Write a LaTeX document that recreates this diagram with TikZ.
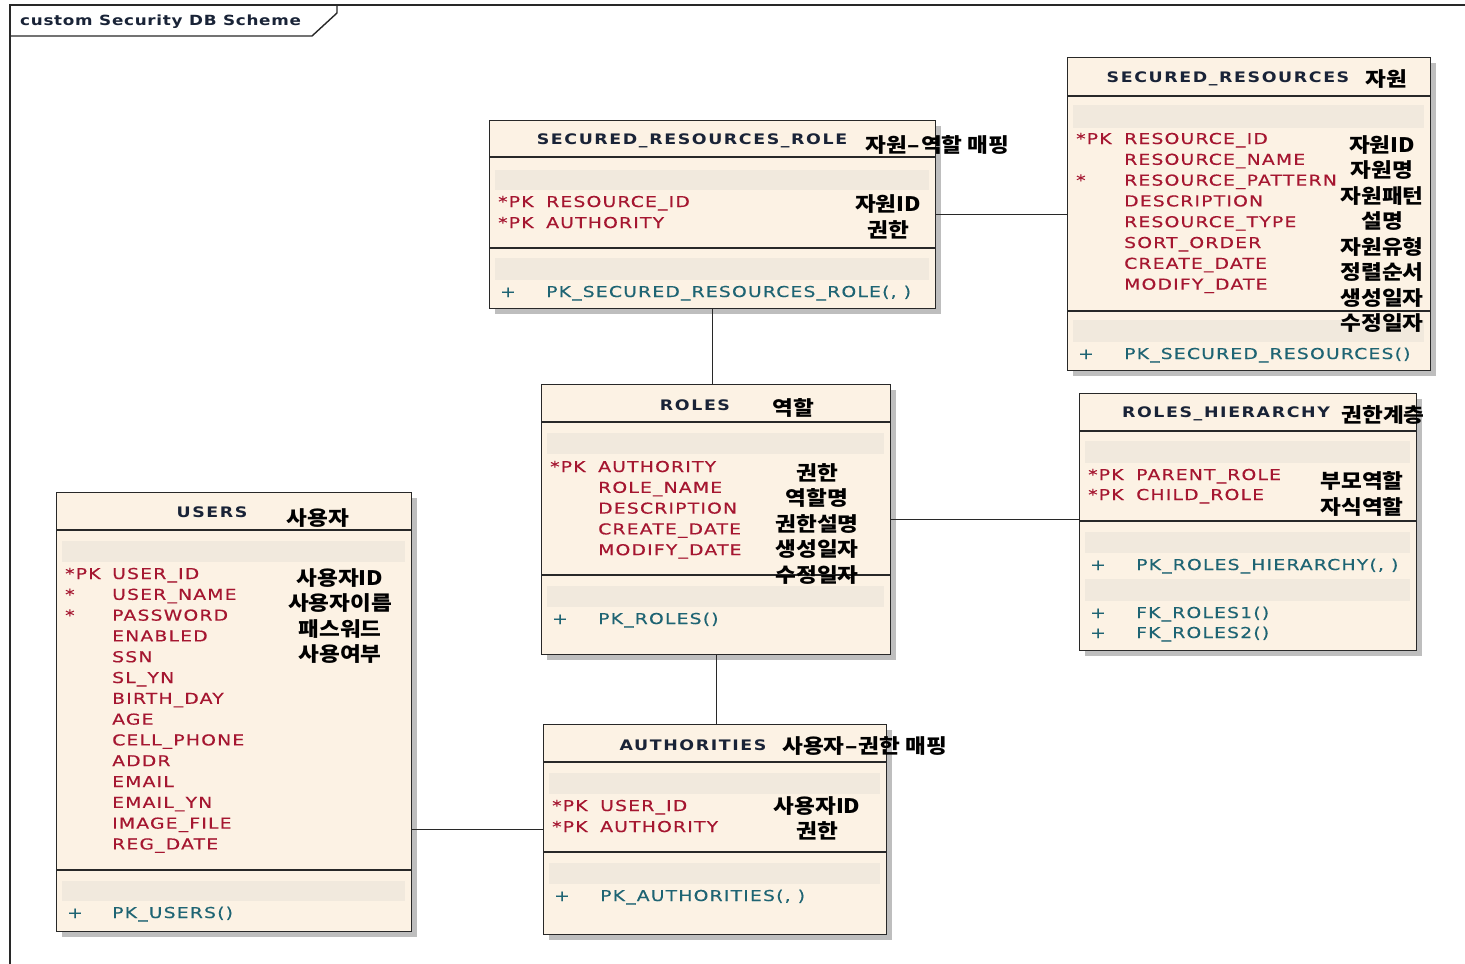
\documentclass[tikz,border=0pt]{standalone}
\usepackage{fontspec}
\usetikzlibrary{shadows}
\newfontfamily\fieldfont[FakeStretch=1.25,LetterSpace=8,FakeBold=0.4]{DejaVu Sans}
\newfontfamily\headfont[FakeStretch=1.2,LetterSpace=11]{DejaVu Sans}
\newfontfamily\titlefont[FakeStretch=1.2,LetterSpace=5]{DejaVu Sans}
\newfontfamily\krfont[FakeStretch=1.13]{Noto Sans CJK KR}

\definecolor{boxfill}{RGB}{252,242,228}
\definecolor{barfill}{RGB}{241,233,221}
\definecolor{boxline}{RGB}{40,40,40}
\definecolor{shadowgray}{RGB}{190,190,190}
\definecolor{fieldred}{RGB}{165,22,48}
\definecolor{methodteal}{RGB}{30,100,115}
\definecolor{headnavy}{RGB}{25,35,55}

\tikzset{
  entity/.style={draw=boxline, line width=1.2pt, fill=boxfill, anchor=north west,
    inner sep=0pt, drop shadow={shadow xshift=5pt, shadow yshift=-5pt, fill=shadowgray, opacity=1}},
  sepline/.style={draw=boxline, line width=1.1pt},
  bar/.style={fill=barfill},
  fld/.style={anchor=base west, inner sep=0pt, text=fieldred, font=\fieldfont\fontsize{15}{18}\selectfont},
  mth/.style={anchor=base west, inner sep=0pt, text=methodteal, font=\fieldfont\fontsize{15}{18}\selectfont},
  hdr/.style={anchor=base, inner sep=0pt, text=headnavy, font=\headfont\bfseries\fontsize{14.5}{17}\selectfont},
  kr/.style={inner sep=0pt, align=center, text=black, font=\krfont\bfseries\fontsize{20}{25.5}\selectfont},
  conn/.style={draw=boxline, line width=1.2pt},
  frame/.style={draw=boxline, line width=1.4pt},
}
\newcommand\dash{\kern1pt–\kern1pt}

\begin{document}
\begin{tikzpicture}[x=1pt,y=-1pt]
\useasboundingbox[fill=white] (0,0) rectangle (1465,964);

% diagram frame and title tab
\draw[frame] (10,964) -- (10,5) -- (1465,5);
\draw[frame] (10,36) -- (312,36) -- (337,13) -- (337,5);
\node[anchor=base west, inner sep=0pt, text=headnavy, font=\titlefont\bfseries\fontsize{14}{17}\selectfont]
  (title) at (20,25) {custom Security DB Scheme};

% ---------------- SECURED_RESOURCES_ROLE
\node[entity, minimum width=446pt, minimum height=188pt] (srr) at (489,120) {};
\draw[sepline] (489,157) -- (935,157);
\fill[bar] (495,170) rectangle (929,190);
\draw[sepline] (489,248) -- (935,248);
\fill[bar] (495,258) rectangle (929,280);
\node[hdr] (srr-h) at (692,144) {SECURED\_RESOURCES\_ROLE};
\node[kr, anchor=west] (srr-k) at (865,145) {자원\dash 역할 매핑};
\node[fld] (srr-p1) at (498,207) {*PK};
\node[fld] (srr-f1) at (546,207) {RESOURCE\_ID};
\node[fld] (srr-p2) at (498,228) {*PK};
\node[fld] (srr-f2) at (546,228) {AUTHORITY};
\node[kr] (srr-c) at (888,217) {자원ID\\권한};
\node[mth] (srr-m0) at (500,297) {+};
\node[mth] (srr-m1) at (546,297) {PK\_SECURED\_RESOURCES\_ROLE(, )};

% ---------------- SECURED_RESOURCES
\node[entity, minimum width=363pt, minimum height=313pt] (sr) at (1067,57) {};
\draw[sepline] (1067,96) -- (1430,96);
\fill[bar] (1073,105) rectangle (1424,128);
\draw[sepline] (1067,311) -- (1430,311);
\fill[bar] (1073,320) rectangle (1424,342);
\node[hdr] (sr-h) at (1228,82) {SECURED\_RESOURCES};
\node[kr] (sr-k) at (1386,79) {자원};
\node[fld] (sr-p1) at (1076,144) {*PK};
\node[fld] (sr-p3) at (1076,185.6) {*};
\foreach \t [count=\i from 0] in {RESOURCE\_ID,RESOURCE\_NAME,RESOURCE\_PATTERN,DESCRIPTION,RESOURCE\_TYPE,SORT\_ORDER,CREATE\_DATE,MODIFY\_DATE}
  \node[fld] (sr-f\i) at (1124,144+20.8*\i) {\t};
\node[kr] (sr-c) at (1382,234) {자원ID\\자원명\\자원패턴\\설명\\자원유형\\정렬순서\\생성일자\\수정일자};
\node[mth] (sr-m0) at (1078,359) {+};
\node[mth] (sr-m1) at (1124,359) {PK\_SECURED\_RESOURCES()};

% ---------------- ROLES
\node[entity, minimum width=349pt, minimum height=270pt] (roles) at (541,384) {};
\draw[sepline] (541,422) -- (890,422);
\fill[bar] (547,433) rectangle (884,454);
\draw[sepline] (541,575) -- (890,575);
\fill[bar] (547,586) rectangle (884,607);
\node[hdr] (roles-h) at (695,410) {ROLES};
\node[kr] (roles-k) at (793,408) {역할};
\node[fld] (roles-p1) at (550,472) {*PK};
\foreach \t [count=\i from 0] in {AUTHORITY,ROLE\_NAME,DESCRIPTION,CREATE\_DATE,MODIFY\_DATE}
  \node[fld] (roles-f\i) at (598,472+20.8*\i) {\t};
\node[kr] (roles-c) at (817,524) {권한\\역할명\\권한설명\\생성일자\\수정일자};
\node[mth] (roles-m0) at (552,624) {+};
\node[mth] (roles-m1) at (598,624) {PK\_ROLES()};

% ---------------- ROLES_HIERARCHY
\node[entity, minimum width=337pt, minimum height=257pt] (rh) at (1079,393) {};
\draw[sepline] (1079,431) -- (1416,431);
\fill[bar] (1085,441) rectangle (1410,463);
\draw[sepline] (1079,521) -- (1416,521);
\fill[bar] (1085,532) rectangle (1410,553);
\fill[bar] (1085,579) rectangle (1410,601);
\node[hdr] (rh-h) at (1226,417) {ROLES\_HIERARCHY};
\node[kr] (rh-k) at (1383,415) {권한계층};
\node[fld] (rh-p1) at (1088,480) {*PK};
\node[fld] (rh-f1) at (1136,480) {PARENT\_ROLE};
\node[fld] (rh-p2) at (1088,500) {*PK};
\node[fld] (rh-f2) at (1136,500) {CHILD\_ROLE};
\node[kr] (rh-c) at (1362,494) {부모역할\\자식역할};
\node[mth] (rh-m0) at (1090,570) {+};
\node[mth] (rh-m1) at (1136,570) {PK\_ROLES\_HIERARCHY(, )};
\node[mth] (rh-m2) at (1090,618) {+};
\node[mth] (rh-m3) at (1136,618) {FK\_ROLES1()};
\node[mth] (rh-m4) at (1090,638) {+};
\node[mth] (rh-m5) at (1136,638) {FK\_ROLES2()};

% ---------------- USERS
\node[entity, minimum width=355pt, minimum height=439pt] (users) at (56,492) {};
\draw[sepline] (56,530) -- (411,530);
\fill[bar] (62,541) rectangle (405,562);
\draw[sepline] (56,870) -- (411,870);
\fill[bar] (62,881) rectangle (405,901);
\node[hdr] (users-h) at (212,517) {USERS};
\node[kr] (users-k) at (318,518) {사용자};
\node[fld] (users-p1) at (65,579) {*PK};
\node[fld] (users-p2) at (65,599.8) {*};
\node[fld] (users-p3) at (65,620.6) {*};
\foreach \t [count=\i from 0] in {USER\_ID,USER\_NAME,PASSWORD,ENABLED,SSN,SL\_YN,BIRTH\_DAY,AGE,CELL\_PHONE,ADDR,EMAIL,EMAIL\_YN,IMAGE\_FILE,REG\_DATE}
  \node[fld] (users-f\i) at (112,579+20.8*\i) {\t};
\node[kr] (users-c) at (340,616) {사용자ID\\사용자이름\\패스워드\\사용여부};
\node[mth] (users-m0) at (67,918) {+};
\node[mth] (users-m1) at (112,918) {PK\_USERS()};

% ---------------- AUTHORITIES
\node[entity, minimum width=343pt, minimum height=210pt] (auth) at (543,724) {};
\draw[sepline] (543,762) -- (886,762);
\fill[bar] (549,773) rectangle (880,794);
\draw[sepline] (543,852) -- (886,852);
\fill[bar] (549,863) rectangle (880,884);
\node[hdr] (auth-h) at (693,750) {AUTHORITIES};
\node[kr, anchor=west] (auth-k) at (782,746) {사용자\dash 권한 매핑};
\node[fld] (auth-p1) at (552,811) {*PK};
\node[fld] (auth-f1) at (600,811) {USER\_ID};
\node[fld] (auth-p2) at (552,832) {*PK};
\node[fld] (auth-f2) at (600,832) {AUTHORITY};
\node[kr] (auth-c) at (817,818.5) {사용자ID\\권한};
\node[mth] (auth-m0) at (554,901) {+};
\node[mth] (auth-m1) at (600,901) {PK\_AUTHORITIES(, )};

% ---------------- relationships
\draw[conn] (srr.east) -- (srr.east -| sr.west);
\draw[conn] (srr.south) -- (srr.south |- roles.north);
\draw[conn] (roles.east) -- (roles.east -| rh.west);
\draw[conn] (roles.south) -- (roles.south |- auth.north);
\draw[conn] (auth.west) -- (auth.west -| users.east);
\end{tikzpicture}
\end{document}
